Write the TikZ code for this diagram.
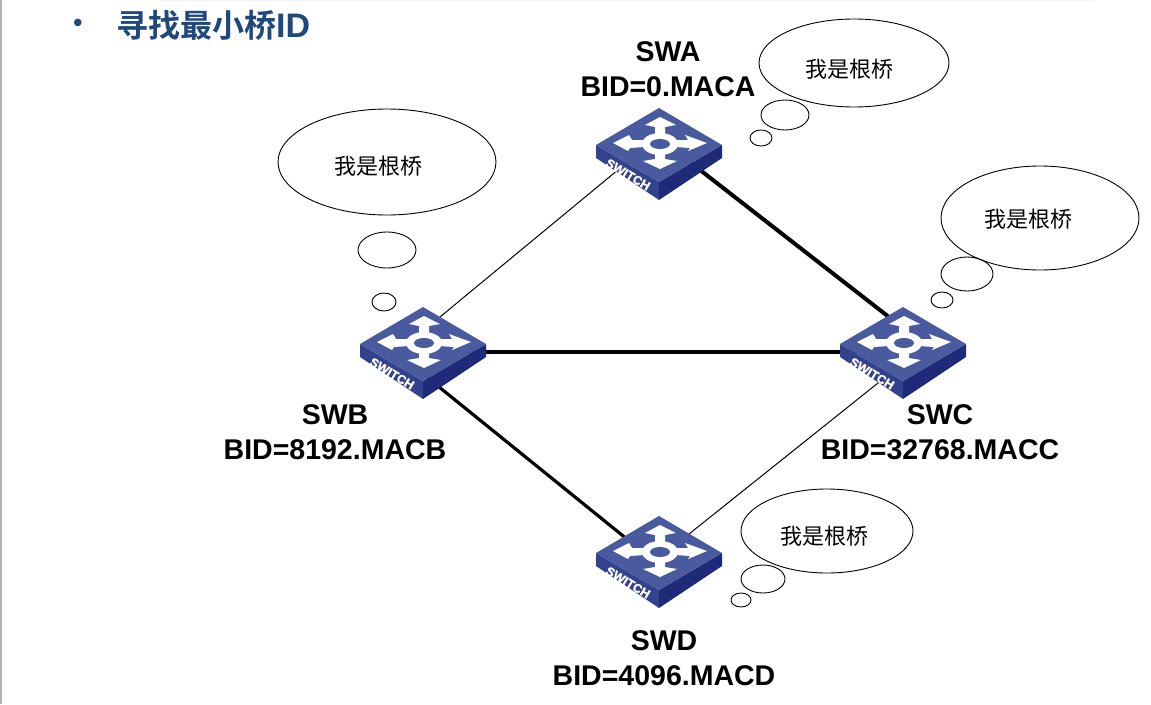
\documentclass[tikz,border=0pt]{standalone}
\usepackage{fontspec}
\setmainfont{Liberation Sans}
\newfontfamily\cjk{Noto Sans CJK SC}
\newfontfamily\cjkb{Noto Sans CJK SC Bold}
\newfontfamily\swfont[FakeBold=1.2]{Liberation Sans Bold}
\definecolor{titleblue}{HTML}{1F497D}
\definecolor{swtop}{HTML}{4A5A9E}
\definecolor{swleft}{HTML}{33428C}
\definecolor{swright}{HTML}{1F2A78}
\tikzset{
  x=1pt,y=-1pt,
  thinlink/.style={line width=1pt,black},
  thicklink/.style={line width=3.2pt,black},
  bubble/.style={draw=black,line width=0.9pt,ellipse,inner sep=0pt},
  bubbletext/.style={font=\cjk\fontsize{22}{26}\selectfont,black},
  swlabel/.style={font=\bfseries\fontsize{28.5}{35}\selectfont,align=center,black},
  swanchor/.style={inner sep=0pt,minimum size=0pt},
  switchicon/.pic={
    \fill[swleft] (-63,1) -- (0,38) -- (0,56) -- (-63,14) -- cycle;
    \fill[swright] (63,1) -- (0,38) -- (0,56) -- (63,14) -- cycle;
    \fill[swtop] (0,-36) -- (63,1) -- (0,38) -- (-63,1) -- cycle;
    \fill[white] (1,-27) -- (17,-19) -- (6,-17) -- (6,-9) -- (16,-4) -- (29,-4)
      -- (26,-9) -- (48,-1) -- (29,7) -- (31,4) -- (16,3) -- (6,8)
      -- (6,15) -- (18,17) -- (1,25) -- (-16,17) -- (-4,15) -- (-4,8)
      -- (-14,3) -- (-29,4) -- (-31,7) -- (-46,-1) -- (-30,-9) -- (-27,-4)
      -- (-14,-4) -- (-4,-9) -- (-4,-17) -- (-14,-19) -- cycle;
    \fill[white] (1,0) ellipse [x radius=18,y radius=11];
    \fill[swtop] (1,0) ellipse [x radius=10,y radius=5];
    \node[white,rotate=-31,font=\swfont\fontsize{12.5}{15}\selectfont,inner sep=0pt] at (-31,30.5) {SWITCH};
  }
}
\usetikzlibrary{shapes.geometric,calc}
\begin{document}
\begin{tikzpicture}
\useasboundingbox (0,0) rectangle (1151,704);
\fill[white] (0,0) rectangle (1151,704);
\fill[gray!60] (0,0) rectangle (2,704);
\fill[gray!10] (160,0) rectangle (1093,1);
% title
\node[anchor=center,font=\bfseries\fontsize{26}{28}\selectfont,text=titleblue] (bullet) at (78,25) {•};
\node[anchor=west,inner sep=0pt,text=titleblue,font=\fontsize{32}{36}\selectfont] (title) at (116,25) {{\cjkb 寻找最小桥}{\fontsize{34}{36}\selectfont\bfseries ID}};
% anchors
\node[swanchor] (A) at (659,144) {};
\node[swanchor] (B) at (423,343) {};
\node[swanchor] (C) at (903,343) {};
\node[swanchor] (D) at (659,552) {};
% connectors
\draw[thinlink] ([yshift=8pt]A.center) -- ([yshift=12pt]B.center);
\draw[thicklink,line width=4pt] ([yshift=6pt]A.center) -- ([yshift=15pt]C.center);
\draw[thicklink] ([yshift=-9pt]B.center) -- ([yshift=-9pt]C.center);
\draw[thicklink] ([yshift=-31pt]B.center) -- ([yshift=-13pt]D.center);
\draw[thinlink] ([yshift=-20pt]C.center) -- ([yshift=-6pt]D.center);
% switches
\pic at (A) {switchicon};
\pic at (B) {switchicon};
\pic at (C) {switchicon};
\pic at (D) {switchicon};
% labels
\node[swlabel] (la) at (668,69) {SWA\\BID=0.MACA};
\node[swlabel] (lb) at (335,432) {SWB\\BID=8192.MACB};
\node[swlabel] (lc) at (940,432) {SWC\\BID=32768.MACC};
\node[swlabel] (ld) at (664,658) {SWD\\BID=4096.MACD};
% bubbles
\node[bubble,minimum width=190pt,minimum height=88pt] (ba) at (854,63) {};
\node[bubbletext] at (849,69) {我是根桥};
\node[bubble,minimum width=48pt,minimum height=30pt] (ba2) at (785,115) {};
\node[bubble,minimum width=22pt,minimum height=16pt] (ba3) at (761,138) {};
\node[bubble,minimum width=218pt,minimum height=106pt] (bb) at (387,162) {};
\node[bubbletext] at (378,166) {我是根桥};
\node[bubble,minimum width=58pt,minimum height=36pt] (bb2) at (387,250) {};
\node[bubble,minimum width=24pt,minimum height=18pt] (bb3) at (384,302) {};
\node[bubble,minimum width=198pt,minimum height=104pt] (bc) at (1040,218) {};
\node[bubbletext] at (1028,219) {我是根桥};
\node[bubble,minimum width=52pt,minimum height=34pt] (bc2) at (967,274) {};
\node[bubble,minimum width=22pt,minimum height=16pt] (bc3) at (942,300) {};
\node[bubble,minimum width=172pt,minimum height=84pt] (bd) at (827,531) {};
\node[bubbletext] at (824,536) {我是根桥};
\node[bubble,minimum width=44pt,minimum height=28pt] (bd2) at (763,579) {};
\node[bubble,minimum width=20pt,minimum height=14pt] (bd3) at (741,600) {};
\end{tikzpicture}
\end{document}
